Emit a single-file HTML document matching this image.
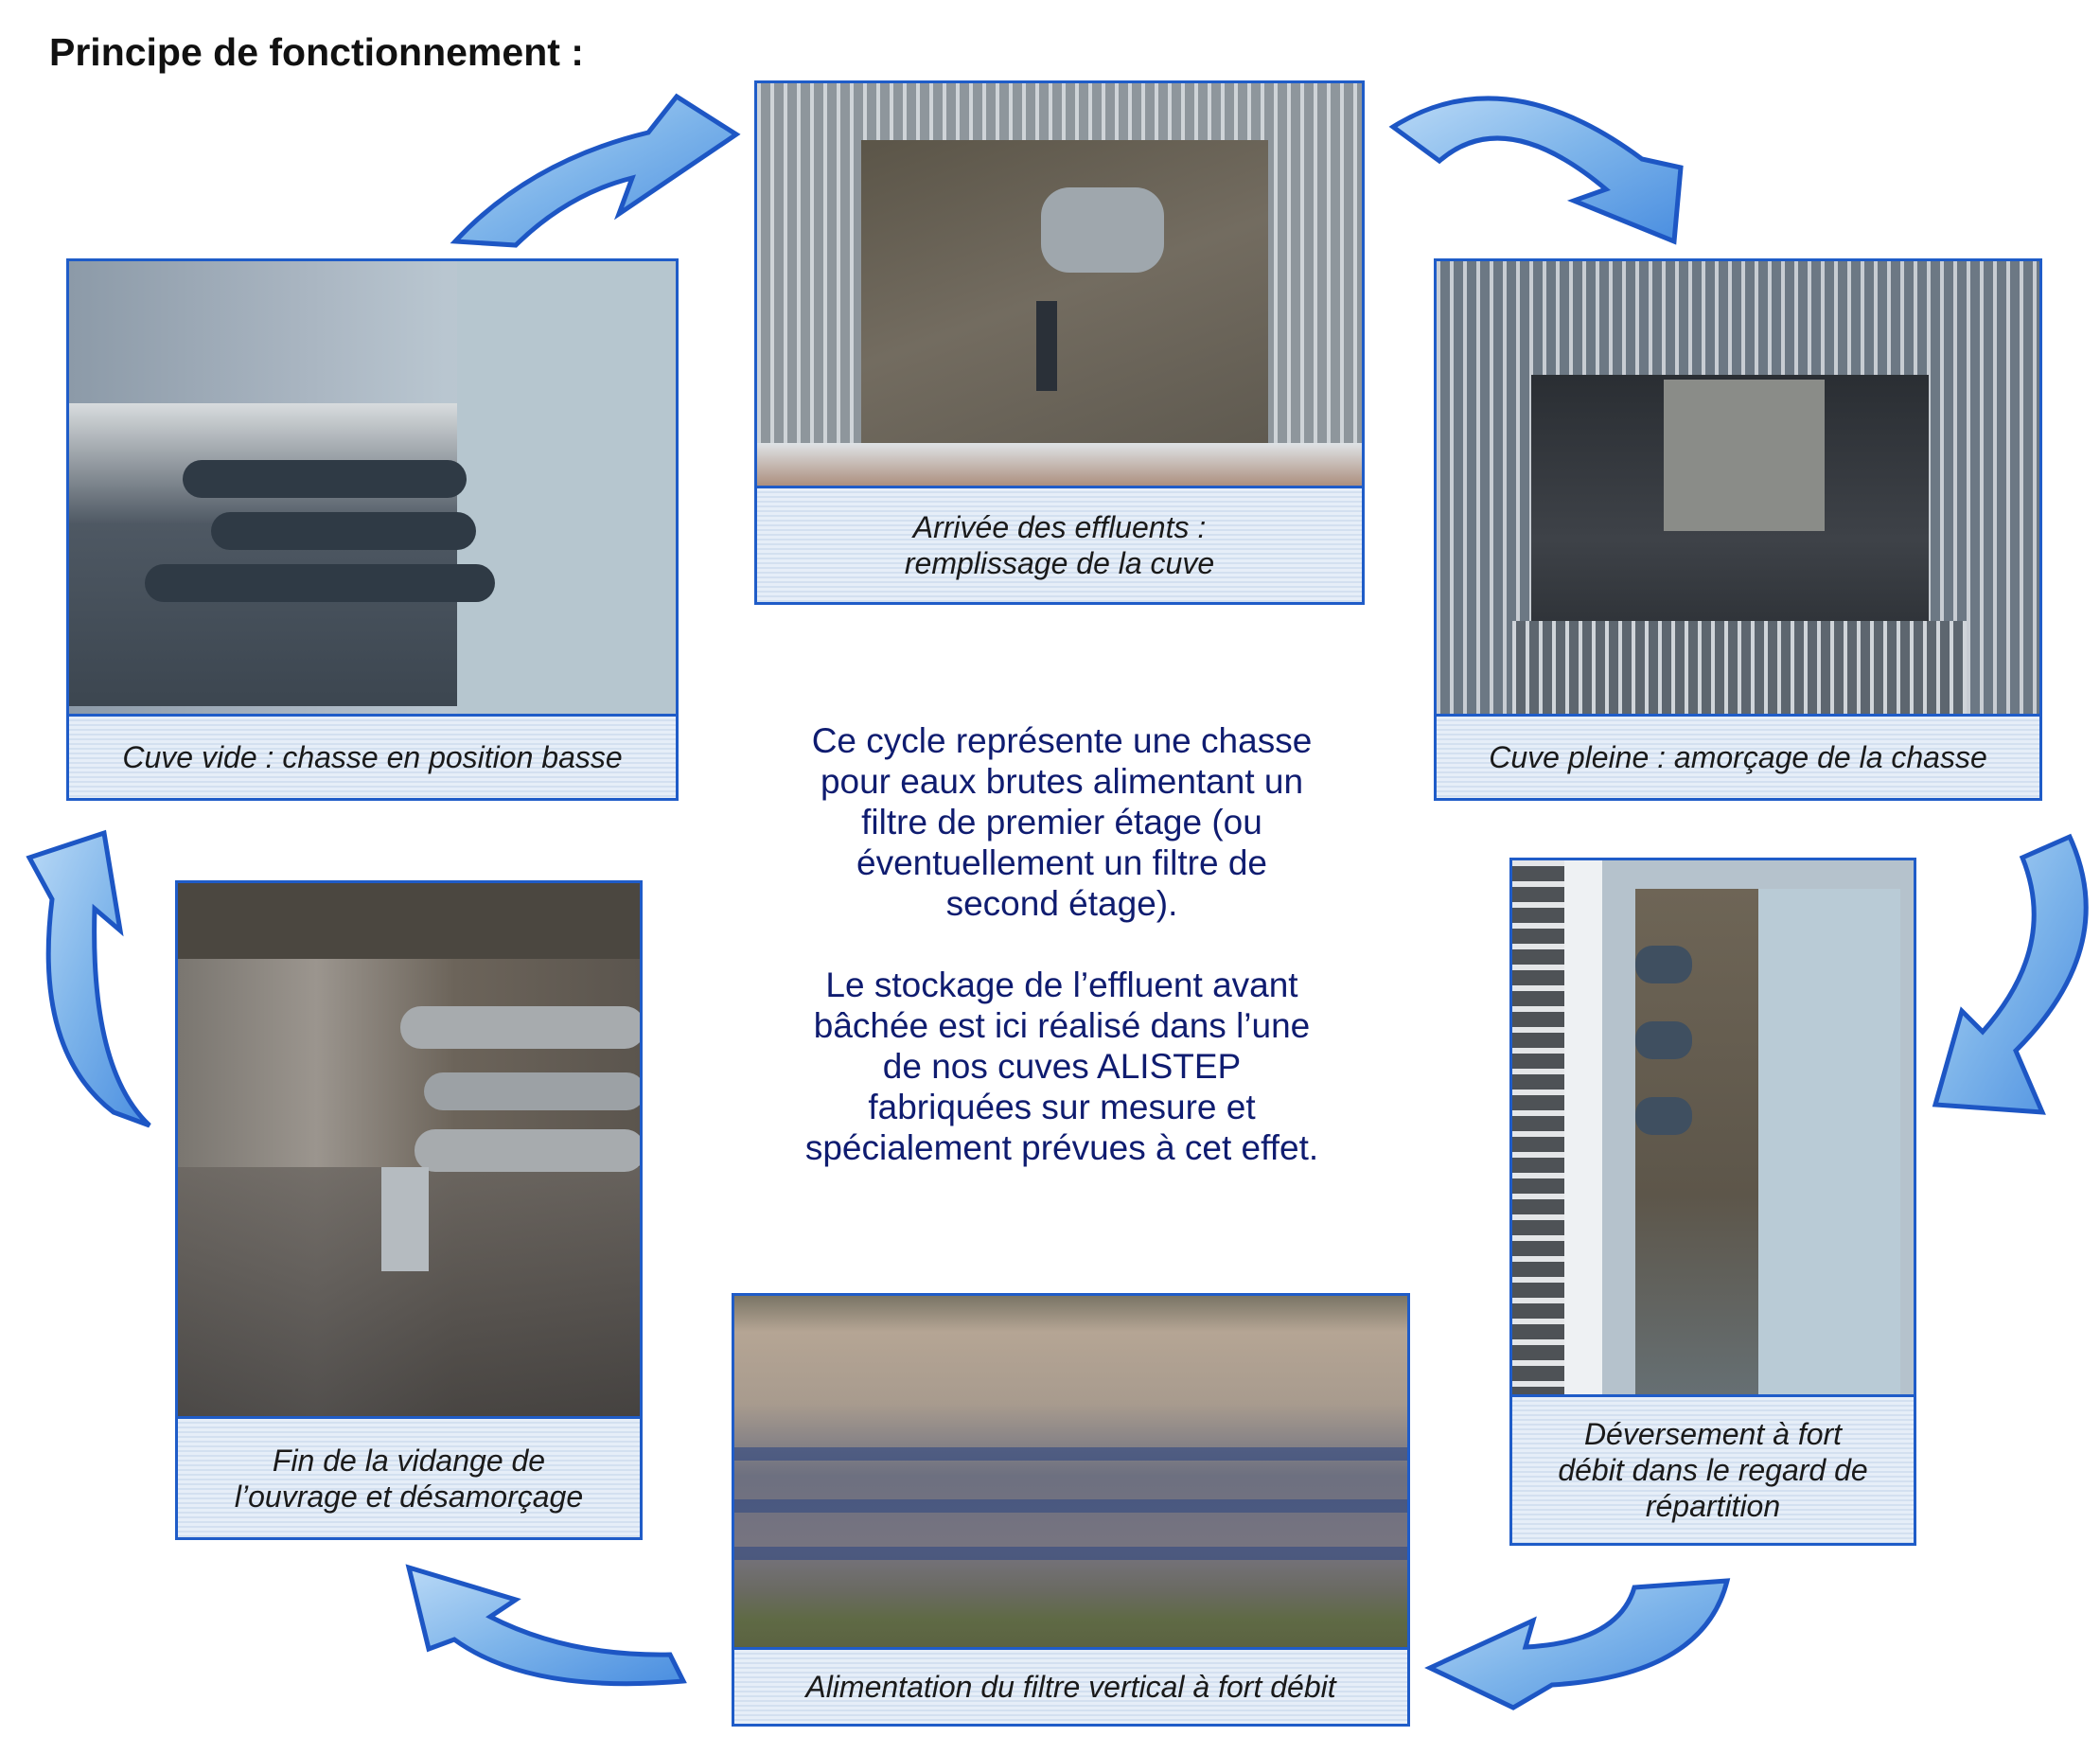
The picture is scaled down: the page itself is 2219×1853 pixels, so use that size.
<!DOCTYPE html>
<html><head><meta charset="utf-8">
<style>
html,body{margin:0;padding:0;}
body{width:2219px;height:1853px;position:relative;background:#fff;overflow:hidden;font-family:"Liberation Sans",Arial,sans-serif;}
.title{position:absolute;left:52px;top:32px;font-size:41px;font-weight:bold;color:#111;}
.box{position:absolute;border:3px solid #1f5cc8;box-sizing:border-box;background:#9aa6b0;}
.photo{position:absolute;left:0;top:0;right:0;overflow:hidden;}
.cap{position:absolute;left:0;right:0;bottom:0;border-top:3px solid #1f5cc8;
 background:repeating-linear-gradient(180deg,#e6eef8 0 3px,#d3e0f0 3px 5px);
 color:#1a1a1a;font-style:italic;font-size:32px;text-align:center;display:flex;align-items:center;justify-content:center;line-height:38px;}
.center{position:absolute;left:772px;width:700px;text-align:center;color:#0f1c70;font-size:37px;line-height:43px;}
</style></head><body>
<div class="title">Principe de fonctionnement :</div>

<div class="box" style="left:70px;top:273px;width:647px;height:573px;">
 <div class="photo" style="height:484px;background:linear-gradient(90deg,#8c9aa8 0%,#aab6c2 40%,#b9c6d0 62%,#c2d0d8 100%);">
  <div style="position:absolute;left:0;top:150px;width:450px;height:320px;background:linear-gradient(180deg,#d8dcde,#4e5863 40%,#3c4650);"></div>
  <div style="position:absolute;left:410px;top:0;width:237px;height:484px;background:#b6c6cf;"></div>
  <div style="position:absolute;left:120px;top:210px;width:300px;height:40px;background:#2f3a45;border-radius:20px;"></div>
  <div style="position:absolute;left:150px;top:265px;width:280px;height:40px;background:#2f3a45;border-radius:20px;"></div>
  <div style="position:absolute;left:80px;top:320px;width:370px;height:40px;background:#2f3a45;border-radius:20px;"></div>
 </div>
 <div class="cap" style="height:86px;">Cuve vide : chasse en position basse</div>
</div>

<div class="box" style="left:797px;top:85px;width:645px;height:554px;">
 <div class="photo" style="height:428px;background:repeating-linear-gradient(90deg,#cfd4d8 0 4px,#8e969c 4px 14px),#aab;">
  <div style="position:absolute;left:110px;top:60px;width:430px;height:320px;background:linear-gradient(160deg,#5b5548,#736c60 50%,#5f5a50);"></div>
  <div style="position:absolute;left:0;top:380px;width:645px;height:48px;background:linear-gradient(180deg,#dfe3e6,#a98a78);"></div>
  <div style="position:absolute;left:300px;top:110px;width:130px;height:90px;background:#9fa7ad;border-radius:30px;"></div>
  <div style="position:absolute;left:295px;top:230px;width:22px;height:95px;background:#2a3038;"></div>
 </div>
 <div class="cap" style="height:120px;">Arrivée des effluents :<br>remplissage de la cuve</div>
</div>

<div class="box" style="left:1515px;top:273px;width:643px;height:573px;">
 <div class="photo" style="height:484px;background:repeating-linear-gradient(90deg,#c8cdd3 0 4px,#6c7884 4px 14px),#889;">
  <div style="position:absolute;left:100px;top:120px;width:420px;height:290px;background:linear-gradient(180deg,#2a2e33,#3e4248 60%,#2b2f34);"></div>
  <div style="position:absolute;left:240px;top:125px;width:170px;height:160px;background:#8a8c88;"></div>
  <div style="position:absolute;left:80px;top:380px;width:480px;height:104px;background:repeating-linear-gradient(90deg,#d0d5da 0 4px,#5d666f 4px 14px);"></div>
 </div>
 <div class="cap" style="height:86px;">Cuve pleine : amorçage de la chasse</div>
</div>

<div class="box" style="left:1595px;top:906px;width:430px;height:727px;">
 <div class="photo" style="height:573px;background:#b5c2cc;">
  <div style="position:absolute;left:0;top:0;width:55px;height:573px;background:repeating-linear-gradient(180deg,#e4e6e8 0 6px,#4e5256 6px 22px);"></div>
  <div style="position:absolute;left:55px;top:0;width:40px;height:573px;background:#eef1f3;"></div>
  <div style="position:absolute;left:130px;top:30px;width:130px;height:540px;background:linear-gradient(180deg,#6e6556,#5d564a 60%,#667074);"></div>
  <div style="position:absolute;left:260px;top:30px;width:150px;height:540px;background:#b9cbd6;"></div>
  <div style="position:absolute;left:130px;top:90px;width:60px;height:40px;background:#3f4f60;border-radius:18px;"></div>
  <div style="position:absolute;left:130px;top:170px;width:60px;height:40px;background:#3f4f60;border-radius:18px;"></div>
  <div style="position:absolute;left:130px;top:250px;width:60px;height:40px;background:#3f4f60;border-radius:18px;"></div>
 </div>
 <div class="cap" style="height:154px;">Déversement à fort<br>débit dans le regard de<br>répartition</div>
</div>

<div class="box" style="left:773px;top:1366px;width:717px;height:458px;">
 <div class="photo" style="height:380px;background:linear-gradient(180deg,#7a7566 0%,#b5a594 10%,#a89b8e 30%,#6d7080 50%,#777480 70%,#6a6a62 82%,#5f6a45 90%,#5a6040 100%);">
  <div style="position:absolute;left:0;top:160px;width:717px;height:14px;background:#3a4f80;opacity:.7;"></div>
  <div style="position:absolute;left:0;top:215px;width:717px;height:14px;background:#3a4f80;opacity:.7;"></div>
  <div style="position:absolute;left:0;top:265px;width:717px;height:14px;background:#3a4f80;opacity:.7;"></div>
 </div>
 <div class="cap" style="height:78px;">Alimentation du filtre vertical à fort débit</div>
</div>

<div class="box" style="left:185px;top:930px;width:494px;height:697px;">
 <div class="photo" style="height:566px;background:linear-gradient(90deg,#7a7670 0%,#9b958e 30%,#6c645a 60%,#5b554e 100%);">
  <div style="position:absolute;left:0;top:0;width:494px;height:80px;background:#4b4740;"></div>
  <div style="position:absolute;left:0;top:300px;width:494px;height:266px;background:linear-gradient(180deg,#6a6560,#3f3d3c);opacity:.8;"></div>
  <div style="position:absolute;left:235px;top:130px;width:259px;height:45px;background:#a7abae;border-radius:22px;"></div>
  <div style="position:absolute;left:260px;top:200px;width:234px;height:40px;background:#9ca1a5;border-radius:20px;"></div>
  <div style="position:absolute;left:250px;top:260px;width:244px;height:45px;background:#a7abae;border-radius:22px;"></div>
  <div style="position:absolute;left:215px;top:300px;width:50px;height:110px;background:#b5bbc0;"></div>
 </div>
 <div class="cap" style="height:125px;">Fin de la vidange de<br>l’ouvrage et désamorçage</div>
</div>

<div class="center" style="top:761px;">Ce cycle représente une chasse<br>pour eaux brutes alimentant un<br>filtre de premier étage (ou<br>éventuellement un filtre de<br>second étage).</div>
<div class="center" style="top:1019px;">Le stockage de l’effluent avant<br>bâchée est ici réalisé dans l’une<br>de nos cuves ALISTEP<br>fabriquées sur mesure et<br>spécialement prévues à cet effet.</div>

<svg width="2219" height="1853" style="position:absolute;left:0;top:0;" xmlns="http://www.w3.org/2000/svg">
<defs>
<linearGradient id="g" x1="0" y1="0" x2="1" y2="1">
<stop offset="0" stop-color="#b9d9f6"/><stop offset="0.5" stop-color="#7db4ea"/><stop offset="1" stop-color="#4a8ee0"/>
</linearGradient>
</defs>
<g fill="url(#g)" stroke="#1d56c4" stroke-width="5" stroke-linejoin="miter">
<path d="M481,255 Q560,170 685,140 L715,102 L778,142 L654,226 L668,188 Q600,205 545,259 Z"/>
<path d="M1472,134 Q1590,60 1735,168 L1776,177 L1769,255 L1663,212 L1697,200 Q1590,110 1521,170 Z"/>
<path d="M2187,884 Q2240,1000 2130,1110 L2158,1175 L2045,1167 L2073,1068 L2095,1090 Q2175,1000 2137,906 Z"/>
<path d="M1825,1670 Q1800,1770 1640,1780 L1599,1804 L1511,1762 L1620,1712 L1612,1740 Q1710,1735 1727,1677 Z"/>
<path d="M722,1776 Q560,1790 480,1732 L453,1742 L432,1656 L545,1690 L518,1708 Q600,1750 708,1748 Z"/>
<path d="M158,1189 Q95,1130 100,960 L127,983 L110,880 L31,906 L55,950 Q35,1110 120,1175 Z"/>
</g>
</svg>
</body></html>
